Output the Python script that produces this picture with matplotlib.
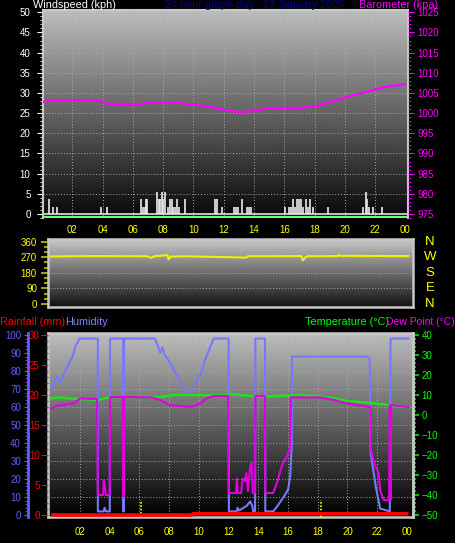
import numpy as np
import matplotlib
matplotlib.use("Agg")
import matplotlib.pyplot as plt
from matplotlib.ticker import MultipleLocator
import matplotlib.transforms as mtransforms

plt.rcParams['font.family'] = ['Liberation Sans', 'DejaVu Sans']

# ---------------- data ----------------
title_text = "24 hour graph day : 13 January 2026"
hour_ticks = [2, 4, 6, 8, 10, 12, 14, 16, 18, 20, 22, 24]
hour_labels = ["02", "04", "06", "08", "10", "12", "14", "16", "18", "20", "22", "00"]

# wind speed (kph) bars
wind_h = [0.48, 0.75, 0.97, 3.88, 4.27, 6.52, 6.65, 6.80, 6.87, 6.96, 7.62, 7.71, 7.79,
          7.90, 8.01, 8.10, 8.34, 8.45, 8.56, 8.67, 8.78, 8.89, 9.03, 9.45, 11.43, 11.58,
          11.87, 12.68, 12.81, 12.95, 13.21, 13.52, 13.65, 13.78, 16.05, 16.33, 16.47,
          16.60, 16.73, 16.86, 17.00, 17.13, 17.26, 17.44, 17.57, 17.70, 17.92, 18.91,
          21.22, 21.38, 21.49, 21.62, 21.88, 22.48]
wind_v = [3.6, 1.8, 1.8, 1.8, 1.8, 3.6, 1.8, 1.8, 3.6, 3.6, 5.4, 3.6, 3.6,
          5.4, 3.6, 5.4, 1.8, 3.6, 3.6, 1.8, 1.8, 3.6, 1.8, 3.6, 3.6, 3.6,
          1.8, 1.8, 1.8, 1.8, 3.6, 1.8, 1.8, 1.8, 1.8, 1.8, 1.8,
          3.6, 1.8, 3.6, 3.6, 3.6, 1.8, 3.6, 1.8, 3.6, 1.8, 1.8,
          1.8, 5.4, 3.6, 1.8, 1.8, 1.8]
wind_avg_h = [0.05, 24.1]
wind_avg_v = [-0.75, -0.75]

# barometer (kpa)
baro_h = [0.09, 1.19, 2.29, 3.83, 4.27, 5.81, 7.57, 8.90, 9.56, 10.44, 11.32, 12.20,
          13.08, 13.96, 14.84, 15.72, 17.04, 17.70, 18.36, 19.24, 20.12, 21.00, 21.88,
          22.54, 23.20, 23.98]
baro_v = [1002.8, 1003.2, 1003.2, 1003.0, 1002.4, 1002.2, 1002.6, 1002.6, 1002.2, 1002.0,
          1001.4, 1000.6, 1000.3, 1000.5, 1001.2, 1001.3, 1001.3, 1001.6, 1002.0, 1003.0,
          1004.0, 1004.9, 1005.7, 1006.4, 1006.8, 1007.2]

# wind direction (deg)
dir_h = [0.05, 3.0, 6.5, 6.8, 7.0, 7.9, 7.95, 8.0, 8.1, 9.0, 13.2, 13.3, 16.9, 17.0,
         17.15, 17.3, 19.3, 19.4, 19.5, 24.1]
dir_v = [275, 277, 276, 267, 276, 282, 258, 262, 274, 276, 268, 276, 277, 252,
         268, 276, 277, 283, 278, 277]

# humidity (%)
hum_h = [0.05, 0.3, 0.45, 0.6, 0.7, 0.85, 1.0, 1.2, 1.35, 1.5, 1.6, 1.7, 1.85, 1.95,
         3.2, 3.2, 3.6, 3.65, 3.75, 4.0, 4.02, 4.9, 4.9, 4.95, 4.97, 7.05, 7.4, 7.55,
         7.7, 8.1, 8.75, 9.2, 9.4, 9.6, 10.1, 10.5, 11.0, 12.0, 12.02, 12.55, 12.6,
         12.7, 13.0, 13.2, 13.45, 13.6, 13.65, 13.78, 13.8, 14.45, 14.47, 15.0, 15.25,
         15.7, 16.0, 16.15, 16.25, 16.27, 21.3, 21.5, 21.55, 21.9, 22.2, 22.85, 22.9, 24.1]
hum_v = [70, 74, 77, 75, 73.5, 77, 80, 83, 86, 88, 91, 94, 96, 98,
         98, 2, 2, 4, 2, 2, 98, 98, 2, 2, 98, 98, 90, 93,
         89, 84, 74, 68, 68.5, 69.5, 78, 88, 98, 98, 2, 2, 4,
         2.5, 4, 5, 7.5, 5, 2, 2, 98, 98, 2, 2, 4.6,
         10, 14, 22, 39, 88, 88, 87, 35, 16, 3.6, 2, 98, 98]

# temperature (C)
temp_h = [0.05, 0.5, 1.2, 2.0, 3.2, 4.0, 6.3, 7.5, 8.1, 10.1, 11.1, 12.3, 13.5, 14.6,
          16.8, 18.2, 19.1, 20.0, 21.3, 22.4, 24.1]
temp_v = [8.3, 8.8, 8.3, 8.0, 7.5, 9.0, 9.0, 9.0, 10.0, 10.0, 9.8, 10.3, 9.5, 9.3,
          10.0, 9.3, 8.3, 7.0, 6.2, 5.3, 4.0]

# dew point (C)
dew_h = [0.05, 0.45, 1.1, 1.6, 2.0, 3.15, 3.2, 3.55, 3.6, 3.7, 3.75, 4.0, 4.02, 4.88,
         4.9, 4.95, 4.97, 6.8, 7.4, 8.0, 9.2, 9.6, 10.1, 10.5, 11.0, 11.98, 12.0, 12.5,
         12.56, 12.62, 12.85, 12.9, 13.0, 13.1, 13.2, 13.3, 13.45, 13.55, 13.62, 13.78,
         13.8, 14.45, 14.47, 15.0, 15.25, 15.5, 15.7, 15.93, 16.15, 16.2, 18.2, 19.1,
         19.7, 20.4, 21.3, 21.55, 21.58, 21.8, 22.1, 22.2, 22.45, 22.8, 22.85, 22.9,
         22.95, 24.1]
dew_v = [3.3, 4.5, 5.3, 5.8, 8.3, 8.0, -40, -40, -32.5, -37, -40, -40, 9, 9,
         -41, -41, 9, 8.8, 7.5, 5.0, 4.2, 4.2, 5.7, 8.3, 9.5, 9.5, -39, -39,
         -31.7, -39, -39, -34, -31.7, -33, -29, -38, -25.8, -24, -39, -39,
         9.5, 9.5, -39, -39, -34, -27.5, -23.3, -20.8, -15.8, 8.8, 8.8, 7.5,
         6.2, 5.3, 4.2, 4.0, -17.5, -24, -29, -37.8, -42.5, -42.5, 5.0, -42.5,
         5.0, 4.0]

# rainfall (mm)
rain_h = [0.05, 9.55, 9.6, 24.1]
rain_v = [0.0, 0.0, 0.2, 0.2]

# sunrise / sunset markers
sun_h = [6.1, 18.2]

# ---------------- figure ----------------
W, H = 455, 543
fig = plt.figure(figsize=(W / 100, H / 100), dpi=100, facecolor='black')


def px_axes(x0, y0, x1, y1):
    return fig.add_axes([x0 / W, 1 - y1 / H, (x1 - x0) / W, (y1 - y0) / H])


def gradient(ax, top, bottom):
    g = np.linspace(top, bottom, 256).reshape(-1, 1)
    ax.imshow(g, cmap='gray', vmin=0, vmax=1, aspect='auto', extent=[0, 1, 0, 1],
              transform=ax.transAxes, zorder=0, interpolation='bilinear')


FRAME = '#c8c8c8'
GRID = dict(color='#a8a8a8', lw=0.7, linestyle=(0, (1, 2)), zorder=1)
TICKFS = 7
TITLEFS = 7.8

# ---------- top panel ----------
ax1 = px_axes(43, 10, 408, 218)
ax1.set_facecolor('black')
gradient(ax1, 0.74, 0.03)
ax1.set_xlim(0.066, 24.17)
ax1.set_ylim(-1.0, 50.57)
for y in range(5, 50, 5):
    ax1.axhline(y, **GRID)
for x in hour_ticks[:-1]:
    ax1.axvline(x, **GRID)
ax1.axhline(0, color='#d0d0d0', lw=1.3, zorder=2)
ax1.vlines(wind_h, 0, wind_v, color='#ececec', lw=1.2, zorder=3)
ax1.plot(wind_avg_h, wind_avg_v, color='#70ff70', lw=1.6, zorder=3)
for s in ax1.spines.values():
    s.set_color(FRAME)
    s.set_linewidth(1.5)
ax1.spines['bottom'].set_visible(False)
ax1.set_yticks(range(0, 51, 5))
ax1.yaxis.set_minor_locator(MultipleLocator(1))
ax1.tick_params(axis='y', which='major', colors='white', labelsize=TICKFS, length=4, pad=5)
ax1.tick_params(axis='y', which='minor', colors='white', length=2)
ax1.set_xticks(hour_ticks)
ax1.set_xticklabels(hour_labels)
ax1.tick_params(axis='x', colors='#ffff00', labelsize=TICKFS, length=0, pad=5)

ax1b = ax1.twinx()
ax1b.set_ylim(975 - 1.0, 975 + 50.57)
ax1b.plot(baro_h, baro_v, color='#ff00ff', lw=1.6, zorder=4)
for s in ax1b.spines.values():
    s.set_visible(False)
ax1b.set_yticks(range(975, 1026, 5))
ax1b.yaxis.set_minor_locator(MultipleLocator(1))
ax1b.tick_params(axis='y', which='major', colors='#ff00ff', labelsize=TICKFS, length=4, pad=3)
ax1b.tick_params(axis='y', which='minor', colors='#ff00ff', length=2)

# ---------- middle panel ----------
ax2 = px_axes(48, 239, 413, 307)
gradient(ax2, 0.78, 0.07)
ax2.set_xlim(-0.155, 24.41)
ax2.set_ylim(-17.3, 375.5)
for y in (90, 180, 270):
    ax2.axhline(y, **GRID)
ax2.plot(dir_h, dir_v, color='#f0f000', lw=1.5, zorder=3)
for s in ax2.spines.values():
    s.set_color(FRAME)
    s.set_linewidth(1.8)
ax2.set_xticks([])
ax2.set_yticks([0, 90, 180, 270, 360])
ax2.yaxis.set_minor_locator(MultipleLocator(30))
ax2.tick_params(axis='y', which='major', colors='#a0a000', labelcolor='#ffff00',
                labelsize=TICKFS, length=5, width=1.5, pad=3)
ax2.tick_params(axis='y', which='minor', colors='#a0a000', length=3, width=1.5)
trans2 = mtransforms.blended_transform_factory(ax2.transAxes, ax2.transData)
for lab, v in zip(['N', 'W', 'S', 'E', 'N'], [360, 270, 180, 90, 0]):
    ax2.text(1.047, v, lab, transform=trans2, color='#ffff00', fontsize=9.5,
             ha='center', va='center', clip_on=False)

# ---------- bottom panel ----------
ax3 = px_axes(48, 333, 413, 517)
gradient(ax3, 0.74, 0.0)
ax3.set_xlim(-0.155, 24.41)
ax3.set_ylim(-1.11, 101.1)
for y in range(10, 100, 10):
    ax3.axhline(y, **GRID)
for x in hour_ticks[:-1]:
    ax3.axvline(x, **GRID)
ax3.plot(hum_h, hum_v, color='#7878ff', lw=1.5, zorder=3)
ax3.vlines(sun_h, -1, 8.5, color='#ffff00', lw=1.2, linestyles=(0, (1, 1)), zorder=4)
for k in ('top', 'bottom', 'right'):
    ax3.spines[k].set_color(FRAME)
    ax3.spines[k].set_linewidth(1.8)
ax3.spines['left'].set_position(('outward', 14.4))
ax3.spines['left'].set_color('#6060ff')
ax3.spines['left'].set_linewidth(2)
ax3.set_yticks(range(0, 101, 10))
ax3.yaxis.set_minor_locator(MultipleLocator(2))
ax3.tick_params(axis='y', which='major', colors='#6060ff', labelsize=TICKFS, length=3, pad=2)
ax3.tick_params(axis='y', which='minor', colors='#6060ff', length=2)
ax3.set_xticks(hour_ticks)
ax3.set_xticklabels(hour_labels)
ax3.tick_params(axis='x', colors='#ffff00', labelsize=TICKFS, length=0, pad=7)

ax_t = ax3.twinx()
ax_t.set_ylim(-51, 41)
ax_t.plot(temp_h, temp_v, color='#20e020', lw=1.8, zorder=3)
ax_t.plot(dew_h, dew_v, color='#e000e0', lw=1.5, zorder=4)
for k in ('top', 'bottom'):
    ax_t.spines[k].set_visible(False)
for k in ('left', 'right'):
    ax_t.spines[k].set_color(FRAME)
    ax_t.spines[k].set_linewidth(1.8)
ax_t.set_yticks(range(-50, 41, 10))
ax_t.yaxis.set_minor_locator(MultipleLocator(2))
ax_t.tick_params(axis='y', which='major', colors='#00e000', labelcolor='#00ff00',
                 labelsize=TICKFS, length=4, width=1.2, pad=2)
ax_t.tick_params(axis='y', which='minor', colors='#00e000', length=2, width=1.2)

ax_r = ax3.twinx()
ax_r.set_ylim(-0.333, 30.33)
ax_r.plot(rain_h, rain_v, color='#ff0000', lw=2.6, zorder=5, solid_capstyle='butt')
for s in ax_r.spines.values():
    s.set_visible(False)
ax_r.yaxis.tick_left()
ax_r.set_yticks(range(0, 31, 5))
ax_r.yaxis.set_minor_locator(MultipleLocator(1))
ax_r.tick_params(axis='y', which='major', colors='#ff0000', labelsize=TICKFS, length=5, pad=1)
ax_r.tick_params(axis='y', which='minor', colors='#b00000', length=2)

# ---------------- titles ----------------
def ftext(x, y, s, color, ha='left', fs=TITLEFS):
    fig.text(x / W, 1 - y / H, s, color=color, ha=ha, va='baseline', fontsize=fs)


ftext(33, 8, "Windspeed (kph)", 'white')
ftext(255, 8, title_text, '#000090', ha='center')
ftext(438, 8, "Barometer (kpa)", '#ff00ff', ha='right')
ftext(0, 325, "Rainfall (mm)", '#ff0000')
ftext(65, 325, "Humidity", '#8080ff')
ftext(305, 325, "Temperature (\u00b0C)", '#00ff00')
ftext(455, 325, "Dew Point (\u00b0C)", '#ff00ff', ha='right', fs=7.5)

fig.savefig('out.png', dpi=100, facecolor='black')
